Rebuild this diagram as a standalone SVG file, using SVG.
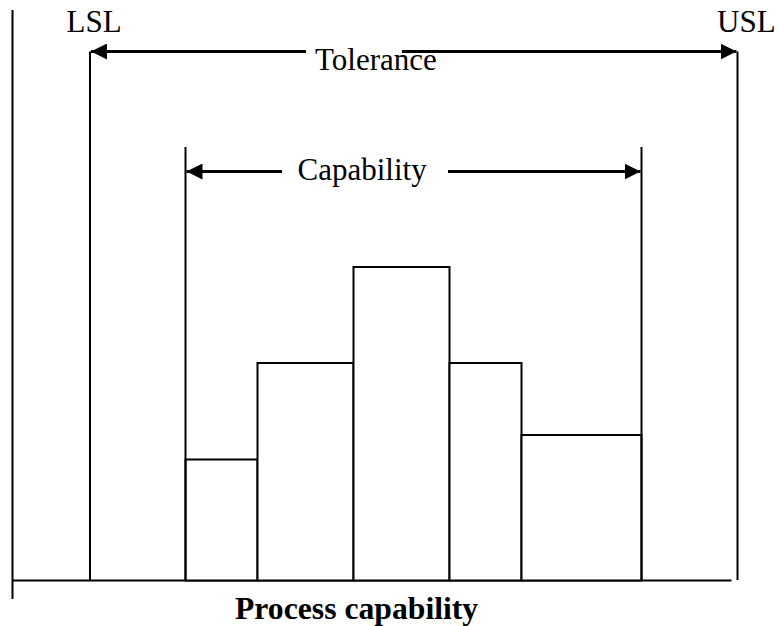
<svg xmlns="http://www.w3.org/2000/svg" width="778" height="626" viewBox="0 0 778 626">
  <style>
    .ln { stroke: #000; stroke-width: 2; fill: none; }
    .arw { stroke: #000; stroke-width: 3; fill: none; }
    .bar { stroke: #000; stroke-width: 2; fill: #fff; }
    .lbl { font-family: "Liberation Serif", "Times New Roman", serif; font-size: 31px; fill: #000; }
    .ttl { font-family: "Liberation Serif", "Times New Roman", serif; font-size: 31.7px; font-weight: bold; fill: #000; }
  </style>
  <defs>
    <marker id="head" viewBox="0 0 16 16" refX="16" refY="8" markerWidth="16" markerHeight="16" markerUnits="userSpaceOnUse" orient="auto-start-reverse">
      <path d="M0,0 L16,8 L0,16 Z" fill="#000"/>
    </marker>
  </defs>
  <rect width="778" height="626" fill="#fff"/>

  <!-- axes -->
  <g id="axes">
    <line class="ln" x1="12.5" y1="10" x2="12.5" y2="599"/>
    <line class="ln" x1="12.5" y1="580.5" x2="731.5" y2="580.5"/>
  </g>

  <!-- histogram bars -->
  <g id="histogram">
    <rect class="bar" x="185.5" y="459.5" width="72" height="121"/>
    <rect class="bar" x="257.5" y="363" width="96" height="217.5"/>
    <rect class="bar" x="353.5" y="267" width="96" height="313.5"/>
    <rect class="bar" x="449.5" y="363" width="72" height="217.5"/>
    <rect class="bar" x="521.5" y="435" width="120" height="145.5"/>
  </g>

  <!-- specification limits -->
  <g id="lsl">
    <line class="ln" x1="90" y1="51.5" x2="90" y2="580.5" stroke-width="2.5"/>
    <text class="lbl" x="66.5" y="32">LSL</text>
  </g>
  <g id="usl">
    <line class="ln" x1="737.5" y1="51.5" x2="737.5" y2="580"/>
    <text class="lbl" x="717" y="32">USL</text>
  </g>

  <!-- capability limits -->
  <g id="capability-limits">
    <line class="ln" x1="185.5" y1="147" x2="185.5" y2="580.5"/>
    <line class="ln" x1="641.5" y1="147" x2="641.5" y2="580.5"/>
  </g>

  <!-- dimension arrows -->
  <g id="connectors">
    <line class="arw" x1="306" y1="51.5" x2="91" y2="51.5" marker-end="url(#head)"/>
    <line class="arw" x1="402" y1="51.5" x2="736.5" y2="51.5" marker-end="url(#head)"/>
    <line class="arw" x1="282" y1="171.5" x2="186.5" y2="171.5" marker-end="url(#head)"/>
    <line class="arw" x1="448" y1="171.5" x2="640.5" y2="171.5" marker-end="url(#head)"/>
  </g>

  <g id="tolerance-label">
    <text class="lbl" x="315" y="69.5">Tolerance</text>
  </g>
  <g id="capability-label">
    <text class="lbl" x="297.5" y="180">Capability</text>
  </g>
  <g id="title">
    <text class="ttl" x="235" y="619">Process capability</text>
  </g>
</svg>
